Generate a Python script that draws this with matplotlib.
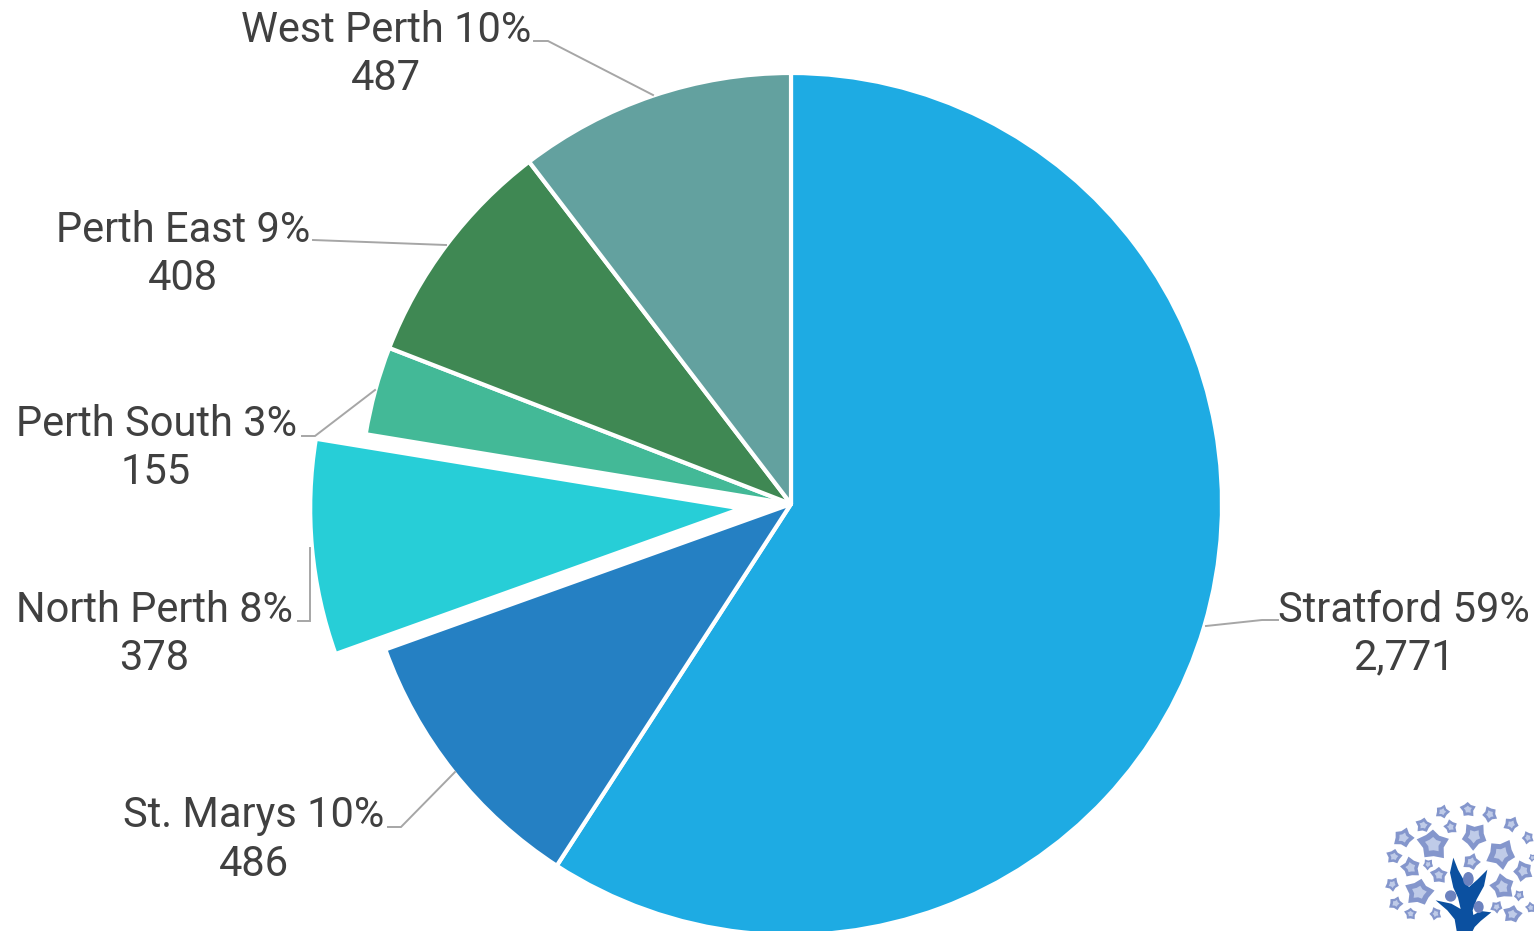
import matplotlib.pyplot as plt
from matplotlib.patches import Ellipse, Polygon
import numpy as np

# population by municipality, clockwise from twelve o'clock
names = ["Stratford", "St. Marys", "North Perth", "Perth South", "Perth East", "West Perth"]
values = [2771, 486, 378, 155, 408, 487]

colors = ["#1EABE3", "#2580C3", "#27CED7", "#43B997", "#3F8853", "#63A19F"]
# pie() takes the offset in data units, which are pixels here
explode = [0, 0, 50, 0, 0, 0]

# label centre x, first line y, second line y
label_x = [1404, 254, 154, 156, 183, 386]
label_y1 = [610, 816, 610, 425, 230, 30]
label_y2 = [658, 864, 658, 473, 278, 79]

# leader lines in pixels
leaders = [
    [(1278, 620), (1262, 620), (1206, 626)],
    [(388, 827), (401, 827), (455, 772)],
    [(298, 621), (310, 621), (310, 548)],
    [(302, 436), (315, 436), (375, 390)],
    [(313, 240), (446, 245)],
    [(534, 41), (548, 41), (653, 95)],
]

# logo leaves: x, y, size, in logo pixels
leaves = [(205, 62, 18), (282, 55, 20), (348, 70, 20), (412, 100, 20), (148, 103, 20),
          (230, 108, 18), (300, 135, 34), (88, 140, 26), (178, 160, 40), (462, 140, 16),
          (382, 190, 38), (60, 197, 20), (110, 230, 26), (162, 220, 14), (292, 212, 22),
          (195, 252, 22), (448, 240, 26), (55, 280, 18), (135, 305, 36), (385, 288, 32),
          (435, 313, 14), (65, 337, 18), (110, 368, 16), (185, 368, 16), (368, 348, 16),
          (415, 370, 24), (470, 350, 14), (475, 200, 10)]
trunk = [(248, 420), (242, 385), (220, 358), (185, 328), (232, 338), (260, 354), (252, 320),
         (238, 290), (228, 245), (238, 200), (252, 236), (272, 272), (285, 288), (310, 266),
         (340, 236), (330, 285), (308, 325), (296, 358), (298, 372), (320, 360), (352, 364),
         (320, 390), (302, 408), (296, 420)]
heads = [(283, 264, 32, 42), (230, 315, 34, 34), (314, 348, 30, 36)]
leaf_shape = [1.0, 0.68, 0.9, 0.62, 1.0, 0.68, 0.85, 0.6, 0.95, 0.62]


def logo_xy(x, y):
    return 1374 + x / 3, 791 + y / 3


def leaf(ax, x, y, size, turn):
    # ragged leaf with a paler middle
    a = np.linspace(0, 2 * np.pi, 11)[:-1] + turn
    r = np.array(leaf_shape)
    cx, cy = logo_xy(x, y)
    s = size / 2.3
    ax.add_patch(Polygon(np.c_[cx + s * r * np.cos(a), cy + s * r * np.sin(a)],
                         closed=True, fc="#8496CC", ec="none", zorder=3))
    ax.add_patch(Polygon(np.c_[cx + 0.5 * s * r * np.cos(a), cy + 0.5 * s * r * np.sin(a)],
                         closed=True, fc="#BFCBE8", ec="none", zorder=4))


plt.rcParams["font.family"] = ["Roboto", "DejaVu Sans"]
fig = plt.figure(figsize=(15.34, 9.31), dpi=100)
ax = fig.add_axes([0, 0, 1, 1])

# y runs downward here, so a rising angle goes clockwise on screen
ax.pie(values, colors=colors, explode=explode, startangle=-90, counterclock=True,
       center=(791, 504), radius=431, frame=True,
       wedgeprops=dict(edgecolor="white", linewidth=3, joinstyle="round"))
ax.set_xlim(0, 1534)
ax.set_ylim(931, 0)
ax.axis("off")

total = sum(values)
for i in range(len(names)):
    pct = round(values[i] / total * 100)
    ax.text(label_x[i], label_y1[i], f"{names[i]} {pct}%", ha="center", va="center",
            fontsize=30, color="#404040")
    ax.text(label_x[i], label_y2[i], f"{values[i]:,}", ha="center", va="center",
            fontsize=30, color="#404040")
    xs, ys = zip(*leaders[i])
    ax.plot(xs, ys, color="#A6A6A6", lw=1.4, solid_joinstyle="miter")

# logo in the lower right corner
for k, (x, y, s) in enumerate(leaves):
    leaf(ax, x, y, s, k * 0.9)
ax.add_patch(Polygon([logo_xy(x, y) for x, y in trunk], closed=True, fc="#0B50A0",
                     ec="none", zorder=5))
for x, y, w, h in heads:
    cx, cy = logo_xy(x, y)
    ax.add_patch(Ellipse((cx, cy), w / 3, h / 3, fc="#6C82BF", ec="none", zorder=5))
ax.set_xlim(0, 1534)
ax.set_ylim(931, 0)

fig.savefig("out.png", dpi=100)
